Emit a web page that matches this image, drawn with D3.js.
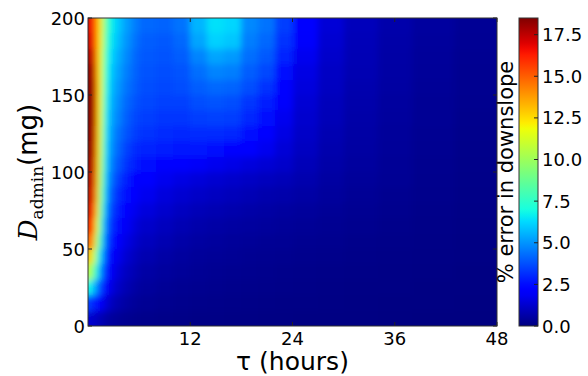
<!DOCTYPE html>
<html>
<head>
<meta charset="utf-8">
<script src="https://cdn.jsdelivr.net/npm/d3@7"></script>
<style>
  body { margin: 0; background: #fff; }
  text { font-family: "DejaVu Sans", sans-serif; fill: #000; }
</style>
</head>
<body>
<div id="chart"></div>
<script>
// bin edges along tau (hours) and dose (mg, top row first)
var tauEdges = [0, 0.4, 0.8, 1.2, 1.6, 2, 2.5, 3, 4, 5, 6, 8, 10, 12, 14, 16, 18, 20, 22, 24, 27, 30, 34, 38, 43, 48];
var doseEdges = [200, 190, 180, 170, 160, 150, 140, 130, 120, 110, 100, 90, 80, 70, 60, 50, 40, 30, 20, 10, 0];

// % error in downslope, one row per dose bin (top to bottom), one value per tau bin
var errorPct = [
  [17.0,16.3,14.4,12.3,10.2,7.8,6.8,6.0,5.2,4.6, 4.2,4.1,4.4,5.6,6.4,6.2,4.8,4.4,3.4, 2.2,1.4,0.95,0.7,0.5,0.35],
  [17.4,16.6,14.5,12.2,10.0,7.5,6.6,5.8,5.0,4.4, 4.0,3.9,4.2,5.3,6.1,5.9,4.6,4.2,3.2, 2.0,1.3,0.9,0.65,0.45,0.32],
  [18.0,17.2,14.8,12.0,9.6,7.2,6.3,5.5,4.8,4.2, 3.9,3.8,4.0,4.7,5.3,5.1,4.3,3.9,2.9, 1.8,1.2,0.85,0.6,0.42,0.3],
  [18.5,17.8,15.0,12.0,9.3,7.0,6.0,5.3,4.6,4.1, 3.8,3.7,3.8,4.3,4.7,4.6,4.0,3.6,2.6, 1.6,1.1,0.8,0.58,0.4,0.28],
  [18.5,18.2,15.3,12.0,9.1,6.8,5.8,5.1,4.4,4.0, 3.7,3.6,3.7,4.0,4.2,4.1,3.7,3.2,2.3, 1.5,1.05,0.75,0.55,0.38,0.26],
  [18.5,18.3,15.3,11.9,8.9,6.6,5.6,4.9,4.2,3.8, 3.6,3.5,3.5,3.7,3.8,3.7,3.3,2.8,2.0, 1.35,0.95,0.7,0.5,0.35,0.24],
  [18.5,18.3,15.2,11.7,8.7,6.4,5.4,4.7,4.0,3.6, 3.4,3.3,3.3,3.4,3.5,3.4,3.0,2.5,1.8, 1.25,0.9,0.65,0.47,0.33,0.22],
  [18.5,18.0,15.0,11.5,8.5,6.2,5.2,4.4,3.8,3.4, 3.2,3.1,3.0,3.1,3.1,3.0,2.6,2.1,1.6, 1.15,0.8,0.6,0.43,0.3,0.2],
  [18.5,17.8,14.6,11.3,8.2,6.0,5.0,4.2,3.5,3.1, 2.9,2.8,2.7,2.7,2.6,2.4,2.1,1.8,1.4, 1.05,0.72,0.55,0.4,0.28,0.18],
  [18.3,17.5,14.3,11.0,7.9,5.8,4.7,3.9,3.2,2.8, 2.5,2.3,2.1,1.95,1.8,1.65,1.5,1.35,1.2, 0.9,0.65,0.5,0.36,0.25,0.17],
  [18.0,17.2,14.0,10.6,7.5,5.4,4.4,3.5,2.8,2.4, 2.1,1.8,1.6,1.45,1.3,1.2,1.1,1.0,0.9, 0.75,0.55,0.42,0.32,0.22,0.15],
  [17.7,16.9,13.6,10.1,7.1,5.0,4.0,3.1,2.5,2.1, 1.8,1.5,1.3,1.15,1.05,0.95,0.85,0.75,0.7, 0.6,0.47,0.36,0.27,0.2,0.13],
  [17.3,16.4,12.9,9.5,6.6,4.6,3.6,2.8,2.2,1.8, 1.5,1.25,1.05,0.9,0.8,0.72,0.65,0.58,0.52, 0.46,0.38,0.3,0.23,0.17,0.12],
  [16.6,15.4,11.9,8.7,6.0,4.1,3.2,2.5,1.9,1.5, 1.2,1.0,0.82,0.7,0.62,0.55,0.5,0.45,0.4, 0.36,0.3,0.24,0.19,0.14,0.1],
  [15.2,13.6,10.5,7.8,5.4,3.7,2.8,2.1,1.6,1.25, 1.0,0.8,0.65,0.55,0.48,0.43,0.39,0.35,0.32, 0.28,0.24,0.19,0.15,0.12,0.09],
  [13.2,11.4,8.7,6.4,4.6,3.2,2.4,1.8,1.3,1.0, 0.78,0.62,0.5,0.43,0.38,0.34,0.3,0.27,0.25, 0.22,0.18,0.15,0.12,0.1,0.08],
  [10.8,9.0,7.0,5.2,3.8,2.7,2.0,1.45,1.05,0.8, 0.6,0.48,0.4,0.34,0.3,0.27,0.24,0.21,0.19, 0.17,0.14,0.12,0.1,0.08,0.06],
  [7.0,6.0,4.8,3.7,2.8,2.1,1.6,1.15,0.82,0.6, 0.45,0.36,0.3,0.26,0.23,0.2,0.18,0.16,0.15, 0.13,0.11,0.09,0.08,0.06,0.05],
  [3.4,3.0,2.6,2.1,1.7,1.35,1.05,0.78,0.56,0.42, 0.32,0.26,0.22,0.19,0.17,0.15,0.13,0.12,0.11, 0.1,0.08,0.07,0.06,0.05,0.04],
  [1.3,1.2,1.05,0.9,0.75,0.6,0.48,0.37,0.28,0.22, 0.18,0.15,0.13,0.11,0.1,0.09,0.08,0.07,0.07, 0.06,0.05,0.05,0.04,0.03,0.03]
];

var xTicks = [12, 24, 36, 48];
var yTicks = [0, 50, 100, 150, 200];
var cbTicks = [0, 2.5, 5, 7.5, 10, 12.5, 15, 17.5];
var vmax = 18.5;

var W = 588, H = 376;
var plot = {left: 88, top: 18, right: 497, bottom: 326};
var cb = {left: 519, right: 538};

// matplotlib "jet"
function seg(pts){
  return d3.scaleLinear().domain(pts.map(function(p){return p[0];}))
    .range(pts.map(function(p){return p[1];})).clamp(true);
}
var jr = seg([[0,0],[0.35,0],[0.66,1],[0.89,1],[1,0.5]]);
var jg = seg([[0,0],[0.125,0],[0.375,1],[0.64,1],[0.91,0],[1,0]]);
var jb = seg([[0,0.5],[0.11,1],[0.34,1],[0.65,0],[1,0]]);
function jet(t){
  return d3.rgb(jr(t)*255, jg(t)*255, jb(t)*255).toString();
}

var x = d3.scaleLinear().domain([0, 48]).range([plot.left, plot.right]);
var y = d3.scaleLinear().domain([0, 200]).range([plot.bottom, plot.top]);
var c = d3.scaleLinear().domain([0, vmax]).range([0, 1]).clamp(true);
var cy = d3.scaleLinear().domain([0, vmax]).range([plot.bottom, plot.top]);

var svg = d3.select('#chart').append('svg')
  .attr('width', W).attr('height', H);

var defs = svg.append('defs');
defs.append('clipPath').attr('id', 'plotClip')
  .append('rect')
  .attr('x', plot.left).attr('y', plot.top)
  .attr('width', plot.right - plot.left).attr('height', plot.bottom - plot.top);
defs.append('filter').attr('id', 'smooth')
  .attr('x', '-5%').attr('y', '-5%').attr('width', '110%').attr('height', '110%')
  .append('feGaussianBlur').attr('stdDeviation', '3.2 3.6');

var cells = [];
errorPct.forEach(function(row, i){
  row.forEach(function(v, j){
    cells.push({i: i, j: j, v: v});
  });
});

var pad = 14; // outer cells run past the frame so the blur does not fade at edges
var nRow = errorPct.length, nCol = tauEdges.length - 1;
svg.append('g').attr('clip-path', 'url(#plotClip)')
  .append('g').attr('filter', 'url(#smooth)')
  .selectAll('rect').data(cells).enter().append('rect')
  .attr('shape-rendering', 'crispEdges')
  .attr('x', function(d){ return x(tauEdges[d.j]) - (d.j === 0 ? pad : 0); })
  .attr('width', function(d){
    return x(tauEdges[d.j+1]) - x(tauEdges[d.j]) + 0.5 + (d.j === 0 ? pad : 0) + (d.j === nCol-1 ? pad : 0);
  })
  .attr('y', function(d){ return y(doseEdges[d.i]) - (d.i === 0 ? pad : 0); })
  .attr('height', function(d){
    return y(doseEdges[d.i+1]) - y(doseEdges[d.i]) + 0.5 + (d.i === 0 ? pad : 0) + (d.i === nRow-1 ? pad : 0);
  })
  .attr('fill', function(d){ return jet(c(d.v)); });

// frame and inward ticks
var tickLen = 4;
var ticks = svg.append('g').attr('stroke', '#222').attr('stroke-width', 1);
xTicks.forEach(function(t){
  ticks.append('line').attr('x1', x(t)).attr('x2', x(t)).attr('y1', plot.bottom).attr('y2', plot.bottom - tickLen);
  ticks.append('line').attr('x1', x(t)).attr('x2', x(t)).attr('y1', plot.top).attr('y2', plot.top + tickLen);
});
yTicks.forEach(function(t){
  ticks.append('line').attr('x1', plot.left).attr('x2', plot.left + tickLen).attr('y1', y(t)).attr('y2', y(t));
  ticks.append('line').attr('x1', plot.right).attr('x2', plot.right - tickLen).attr('y1', y(t)).attr('y2', y(t));
});
svg.append('rect')
  .attr('x', plot.left).attr('y', plot.top)
  .attr('width', plot.right - plot.left).attr('height', plot.bottom - plot.top)
  .attr('fill', 'none').attr('stroke', '#333').attr('stroke-width', 1);

svg.append('g').selectAll('text').data(xTicks).enter().append('text')
  .attr('x', function(d){ return x(d); }).attr('y', 345)
  .attr('text-anchor', 'middle').style('font-size', '18px')
  .text(function(d){ return d; });

svg.append('g').selectAll('text').data(yTicks).enter().append('text')
  .attr('x', plot.left - 3).attr('y', function(d){ return y(d) + 6.5; })
  .attr('text-anchor', 'end').style('font-size', '18px')
  .text(function(d){ return d; });

svg.append('text')
  .attr('x', (plot.left + plot.right) / 2).attr('y', 370)
  .attr('text-anchor', 'middle').style('font-size', '25px')
  .text('τ (hours)');

var yl = svg.append('text')
  .attr('transform', 'translate(37,' + ((plot.top + plot.bottom) / 2) + ') rotate(-90)')
  .attr('text-anchor', 'middle').style('font-size', '26px');
yl.append('tspan').style('font-family', '"DejaVu Serif", serif').style('font-style', 'italic').text('D');
yl.append('tspan').style('font-family', '"DejaVu Serif", serif').style('font-size', '17px').attr('dy', 6).text('admin');
yl.append('tspan').attr('dy', -6).text('(mg)');

// colorbar
var grad = defs.append('linearGradient').attr('id', 'jetGrad')
  .attr('x1', 0).attr('y1', 1).attr('x2', 0).attr('y2', 0);
d3.range(0, 1.0001, 0.02).forEach(function(t){
  grad.append('stop').attr('offset', t).attr('stop-color', jet(t));
});
svg.append('rect')
  .attr('x', cb.left).attr('y', plot.top)
  .attr('width', cb.right - cb.left).attr('height', plot.bottom - plot.top)
  .attr('fill', 'url(#jetGrad)').attr('stroke', '#333').attr('stroke-width', 1);

var cbg = svg.append('g');
cbTicks.forEach(function(t){
  cbg.append('line').attr('x1', cb.right - tickLen).attr('x2', cb.right)
    .attr('y1', cy(t)).attr('y2', cy(t)).attr('stroke', '#222');
  cbg.append('text').attr('x', cb.right + 4).attr('y', cy(t) + 6.5)
    .style('font-size', '18px').text(d3.format('.1f')(t));
});

svg.append('text')
  .attr('transform', 'translate(513,' + ((plot.top + plot.bottom) / 2) + ') rotate(-90)')
  .attr('text-anchor', 'middle').style('font-size', '21px')
  .text('% error in downslope');
</script>
</body>
</html>
